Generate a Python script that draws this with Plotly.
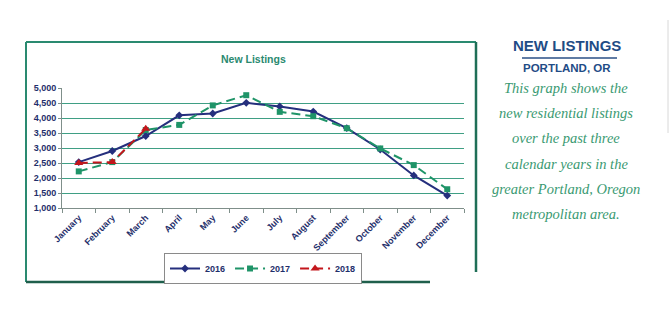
import plotly.graph_objects as go

# Monthly new residential listings, greater Portland
months = ["January", "February", "March", "April", "May", "June", "July",
          "August", "September", "October", "November", "December"]
listings_2016 = [2530, 2900, 3400, 4090, 4150, 4505, 4385, 4215, 3665, 2950, 2085, 1415]
listings_2017 = [2220, 2530, 3600, 3770, 4420, 4760, 4205, 4060, 3660, 2985, 2430, 1625]
months_2018 = ["January", "February", "March"]
listings_2018 = [2500, 2530, 3640]

y_ticks = [1000, 1500, 2000, 2500, 3000, 3500, 4000, 4500, 5000]

desc_lines = ["This graph shows the", "new residential listings", "over the past three",
              "calendar years in the", "greater Portland, Oregon", "metropolitan area."]

W, H = 670, 328
NAVY = "#252f7d"
GREEN = "#1f9468"
RED = "#c3161c"
TEAL = "#2a8a70"
LABEL = "#1f2f6b"


def px(x):
    return x / W


def py(y):
    return 1 - y / H


fig = go.Figure()
fig.add_trace(go.Scatter(
    x=months, y=listings_2016, name="2016", mode="lines+markers",
    line=dict(color=NAVY, width=2), marker=dict(symbol="diamond", size=6, color=NAVY)))
fig.add_trace(go.Scatter(
    x=months, y=listings_2017, name="2017", mode="lines+markers",
    line=dict(color=GREEN, width=2, dash="9px,5px"), marker=dict(symbol="square", size=6, color=GREEN)))
fig.add_trace(go.Scatter(
    x=months_2018, y=listings_2018, name="2018", mode="lines+markers",
    line=dict(color=RED, width=2, dash="9px,5px"), marker=dict(symbol="triangle-up", size=8, color=RED)))

tick_font = dict(size=9, color=LABEL, family="Arial, Liberation Sans, sans-serif", weight="bold")

fig.update_layout(
    width=W, height=H,
    margin=dict(l=0, r=0, t=0, b=0, pad=0, autoexpand=False),
    paper_bgcolor="white", plot_bgcolor="white",
    font=dict(family="Arial, Liberation Sans, sans-serif", color=LABEL),
    showlegend=True,
    legend=dict(orientation="h", x=px(263), y=py(268.5), xanchor="center", yanchor="middle",
                bordercolor="#8a8a8a", borderwidth=1, bgcolor="white",
                font=tick_font, itemwidth=30, tracegroupgap=0),
    xaxis=dict(domain=[px(62), px(464)], range=[-0.5, 11.5], type="category",
               categoryorder="array", categoryarray=months, automargin=False,
               showgrid=False, showline=True, linecolor="#7f8f8a", linewidth=1,
               ticks="outside", ticklen=4, tickcolor="#7f8f8a", tickson="boundaries",
               tickangle=-45, tickfont=tick_font, fixedrange=True),
    yaxis=dict(domain=[py(208), py(88)], range=[1000, 5000], automargin=False,
               tickvals=y_ticks, tickformat=",",
               showgrid=True, gridcolor="#3f9f84", gridwidth=1,
               showline=True, linecolor="#7f8f8a", linewidth=1,
               ticks="outside", ticklen=3, tickcolor="#7f8f8a",
               tickfont=tick_font, zeroline=False, fixedrange=True),
)

shapes = [
    # chart frame
    dict(type="line", xref="paper", yref="paper", x0=px(26), x1=px(476), y0=py(42), y1=py(42),
         line=dict(color=TEAL, width=2)),
    dict(type="line", xref="paper", yref="paper", x0=px(26), x1=px(26), y0=py(42), y1=py(282),
         line=dict(color=TEAL, width=2)),
    dict(type="line", xref="paper", yref="paper", x0=px(476), x1=px(476), y0=py(42), y1=py(272),
         line=dict(color="#1f6f57", width=2.5)),
    dict(type="line", xref="paper", yref="paper", x0=px(26), x1=px(430), y0=py(282), y1=py(282),
         line=dict(color="#1f5f4c", width=2.5)),
    # underline of the heading
    dict(type="line", xref="paper", yref="paper", x0=px(522), x1=px(617), y0=py(58), y1=py(58),
         line=dict(color="#2a4f86", width=1.5)),
    # thin divider on the far right
    dict(type="line", xref="paper", yref="paper", x0=px(668), x1=px(668), y0=py(20), y1=py(133),
         line=dict(color="#d8d8d8", width=1)),
]
fig.update_layout(shapes=shapes)

annotations = [
    dict(text="<b>New Listings</b>", x=px(253), y=py(59),
         font=dict(size=10.5, color=TEAL, family="Arial, sans-serif")),
    dict(text="<b>NEW LISTINGS</b>", x=px(567), y=py(45),
         font=dict(size=15, color="#1f4c86", family="Arial, Liberation Sans, sans-serif")),
    dict(text="<b>PORTLAND, OR</b>", x=px(567), y=py(68),
         font=dict(size=11.5, color="#1f4c86", family="Arial, Liberation Sans, sans-serif")),
]
for i, line in enumerate(desc_lines):
    annotations.append(dict(
        text="<i>" + line + "</i>", x=px(566), y=py(88 + 25.2 * i),
        font=dict(size=14.5, color="#3a9a72", family="Liberation Serif")))
for a in annotations:
    a.update(xref="paper", yref="paper", xanchor="center", yanchor="middle", showarrow=False)
fig.update_layout(annotations=annotations)

fig.write_html("out.html", post_script="document.body.style.margin='0';")
